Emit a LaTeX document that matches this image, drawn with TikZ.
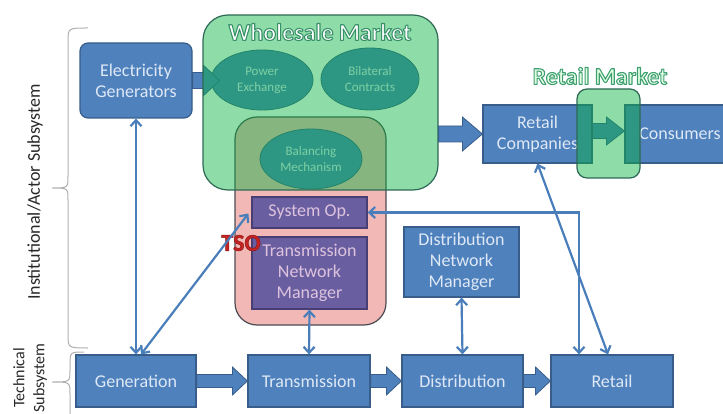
\documentclass[tikz,border=0pt]{standalone}
\usepackage{fontspec}
\setmainfont{Carlito}
\usetikzlibrary{arrows.meta,calc,shapes.geometric}

\definecolor{boxblue}{RGB}{79,129,189}
\definecolor{boxedge}{RGB}{56,93,138}
\definecolor{boxtext}{RGB}{222,232,246}
\definecolor{mktgreen}{RGB}{9,179,66}
\definecolor{mktedge}{RGB}{45,105,85}
\definecolor{tsopink}{RGB}{242,184,182}
\definecolor{tsoedge}{RGB}{75,75,85}
\definecolor{opfill}{RGB}{105,94,160}
\definecolor{opedge}{RGB}{72,62,115}
\definecolor{optext}{RGB}{222,195,222}
\definecolor{linkblue}{RGB}{74,126,187}
\definecolor{bracegray}{RGB}{175,175,175}
\definecolor{tsored}{RGB}{200,35,35}
\definecolor{labeltext}{RGB}{40,40,40}

\tikzset{
  every node/.style={font=\fontsize{18}{21}\selectfont, align=center, inner sep=0pt},
  actor/.style={draw=boxedge, fill=boxblue, line width=1.2pt, text=boxtext},
  operator/.style={draw=opedge, fill=opfill, line width=1.2pt, text=optext},
  mechanism/.style={ellipse, draw=boxedge, fill=boxblue, line width=0.8pt, text=boxtext,
    font=\fontsize{13}{16}\selectfont},
  market/.style={draw=mktedge, line width=1.2pt, fill=mktgreen, fill opacity=0.46},
  fatarrow/.style={fill=boxblue, draw=boxedge, line width=0.8pt},
  link/.style={draw=linkblue, line width=2.2pt,
    {Straight Barb[length=6pt,width=11pt]}-{Straight Barb[length=6pt,width=11pt]}},
  brace/.style={draw=bracegray, line width=1pt},
  titlefont/.style={font=\fontsize{24}{26}\selectfont\bfseries},
  sidelabel/.style={text=labeltext, rotate=90}
}

% horizontal block arrow: start, end, half body height, half head height, head length
\newcommand{\blockarrow}[5]{%
  \path[fatarrow] let \p1=(#1), \p2=(#2) in
    (\x1,\y1+#3) -- (\x2-#5,\y1+#3) -- (\x2-#5,\y1+#4) -- (\x2,\y1)
    -- (\x2-#5,\y1-#4) -- (\x2-#5,\y1-#3) -- (\x1,\y1-#3) -- cycle;}

% glyphs filled in the current colour and stroked: outline RGB, stroke width, text
\newcommand{\outlined}[3]{%
  \special{pdf:literal direct #1 RG 2 Tr #2 w 1 j}#3\special{pdf:literal direct 0 Tr}}

% vertical brace opening to the right: x of ends, x of spine, x of tip, top, tip, bottom
\newcommand{\vbrace}[6]{%
  \draw[brace] (#1,#4) .. controls (#2,#4) .. (#2,#4+14) -- (#2,#5-12)
    .. controls (#2,#5) .. (#3,#5) .. controls (#2,#5) .. (#2,#5+12)
    -- (#2,#6-14) .. controls (#2,#6) .. (#1,#6);}

\begin{document}
\begin{tikzpicture}[x=1pt,y=-1pt]
\useasboundingbox (0,0) rectangle (723,414);
\clip (0,0) rectangle (723,414);

% subsystem braces and their labels
\vbrace{88}{68}{52}{28}{188}{348}
\vbrace{84}{70}{52}{352}{382}{420}
\node[sidelabel, font=\fontsize{18}{21}\selectfont] (instlabel) at (35,192) {Institutional/Actor Subsystem};
\node[sidelabel, font=\fontsize{16}{20}\selectfont] (techlabel) at (30,378) {Technical\\Subsystem};

% market mechanisms (seen through the wholesale market)
\node[mechanism, minimum width=102pt, minimum height=60pt] (pe) at (262,80) {Power\\Exchange};
\node[mechanism, minimum width=98pt, minimum height=62pt] (bc) at (370,79) {Bilateral\\Contracts};

% transmission system operator
\node[draw=tsoedge, fill=tsopink, line width=1.2pt, rounded corners=22pt,
      minimum width=151pt, minimum height=208pt] (tso) at (310.5,221) {};
\node[mechanism, minimum width=102pt, minimum height=60pt] (bm) at (311,159) {Balancing\\Mechanism};

% generators feeding the wholesale market
\node[actor, rounded corners=8pt, minimum width=112pt, minimum height=75pt] (eg) at (136,80.5)
  {Electricity\\Generators};
\blockarrow{eg.east}{$(pe.west)+(9,0)$}{8pt}{15pt}{16pt}

% wholesale market
\node[market, rounded corners=25pt, minimum width=235pt, minimum height=175pt] (wm) at (320.5,102.5) {};

\node[operator, minimum width=115pt, minimum height=31pt] (sysop) at (309.5,212.5) {System Op.};
\node[operator, minimum width=115pt, minimum height=72pt] (tnm) at (309.5,273)
  {Transmission\\Network\\Manager};

\node[titlefont, text=tsored] (tsotitle) at (241,243) {\outlined{0.55 0.1 0.1}{0.5}{TSO}};
\node[titlefont, text=white] (wmtitle) at (320,32) {\outlined{0.22 0.57 0.41}{1.1}{Wholesale Market}};

\node[actor, minimum width=115pt, minimum height=70pt] (dnm) at (461.5,262)
  {Distribution\\Network\\Manager};

% retail side
\node[actor, minimum width=109pt, minimum height=58pt] (rc) at (537.5,134) {Retail\\Companies};
\node[actor, minimum width=110pt, minimum height=58pt] (cons) at (680,134) {Consumers};
\blockarrow{wm.east |- rc.west}{rc.west}{8pt}{17pt}{20pt}
\blockarrow{$(rc.east)+(0,-3)$}{$(cons.west)+(0,-3)$}{7.5pt}{14pt}{18pt}

\node[market, rounded corners=10pt, minimum width=63pt, minimum height=89pt] (rm) at (608.5,133.5) {};
\node[titlefont, text=white!88!green] (rmtitle) at (600,76) {\outlined{0.25 0.62 0.45}{1.1}{Retail Market}};

% technical subsystem chain
\node[actor, minimum width=120pt, minimum height=52pt] (gen) at (136,381) {Generation};
\node[actor, minimum width=122pt, minimum height=52pt] (trans) at (309,381) {Transmission};
\node[actor, minimum width=121pt, minimum height=52pt] (dist) at (462.5,381) {Distribution};
\node[actor, minimum width=122pt, minimum height=52pt] (retail) at (612,381) {Retail};
\blockarrow{gen.east}{trans.west}{6.5pt}{14pt}{15pt}
\blockarrow{trans.east}{dist.west}{6.5pt}{14pt}{15pt}
\blockarrow{dist.east}{retail.west}{6.5pt}{14pt}{15pt}

% information and control links
\draw[link] (eg.south) -- (gen.north);
\draw[link] ($(gen.north)+(5,0)$) -- ($(sysop.west)+(-3,1)$);
\draw[link] (tnm.south) -- (trans.north);
\draw[link] (dnm.south) -- (dist.north);
\draw[link] (sysop.east) -| ($(retail.north)+(-33,0)$);
\draw[link] (rc.south) -- ($(retail.north)+(-4,0)$);
\end{tikzpicture}
\end{document}
